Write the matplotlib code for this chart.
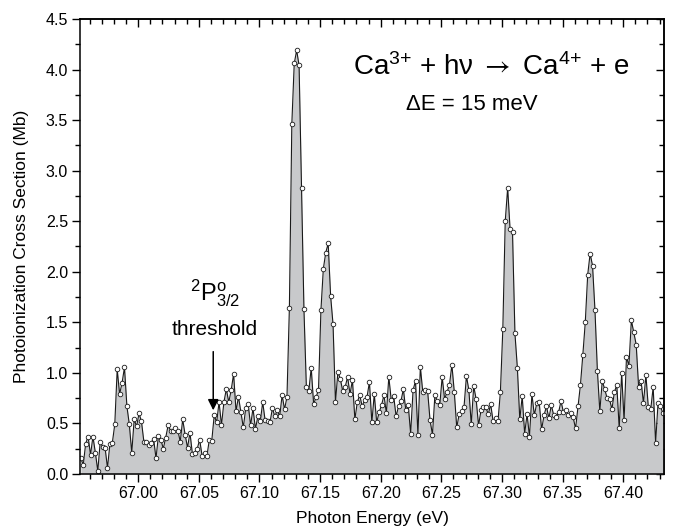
import numpy as np
import matplotlib
matplotlib.use("Agg")
import matplotlib.pyplot as plt
from matplotlib.ticker import MultipleLocator

plt.rcParams['font.family'] = ['Liberation Sans', 'DejaVu Sans']
plt.rcParams['mathtext.fontset'] = 'custom'
plt.rcParams['mathtext.rm'] = 'Liberation Sans'
plt.rcParams['mathtext.it'] = 'Liberation Sans:italic'
plt.rcParams['mathtext.sf'] = 'Liberation Sans'
plt.rcParams['mathtext.cal'] = 'STIXGeneral'

# scan: first energy and step (eV)
e_start = 66.9527
e_step = 0.002

# photoionization cross section (Mb), read point by point
cross_section = [
    0.155, 0.09, 0.30, 0.37, 0.19, 0.37, 0.21, 0.03, 0.32, 0.27,
    0.26, 0.06, 0.30, 0.31, 0.49, 1.035, 0.79, 0.90, 1.055, 0.67,
    0.49, 0.21, 0.54, 0.47, 0.60, 0.52, 0.32, 0.32, 0.29, 0.31,
    0.35, 0.155, 0.38, 0.34, 0.25, 0.36, 0.48, 0.43, 0.43, 0.45,
    0.43, 0.32, 0.54, 0.39, 0.26, 0.41, 0.20, 0.21, 0.25, 0.34,
    0.18, 0.21, 0.18, 0.34, 0.33, 0.58, 0.51, 0.71, 0.485, 0.71,
    0.84, 0.71, 0.83, 0.99, 0.62, 0.765, 0.61, 0.46, 0.65, 0.69,
    0.48, 0.65, 0.445, 0.57, 0.52, 0.71, 0.53, 0.52, 0.51, 0.65,
    0.57, 0.63, 0.57, 0.78, 0.64, 0.76, 1.645, 3.46, 4.06, 4.19,
    4.04, 2.83, 1.63, 0.86, 0.82, 1.05, 0.69, 0.76, 0.83, 1.62,
    2.03, 2.19, 2.28, 1.76, 1.48, 0.71, 1.01, 0.94, 0.82, 0.86,
    0.96, 0.79, 0.93, 0.54, 0.71, 0.78, 0.67, 0.73, 0.76, 0.91,
    0.51, 0.79, 0.51, 0.61, 0.68, 0.78, 0.60, 0.96, 0.73, 0.77,
    0.57, 0.67, 0.72, 0.84, 0.63, 0.68, 0.40, 0.83, 0.92, 0.39,
    1.06, 0.81, 0.83, 0.82, 0.53, 0.39, 0.78, 0.72, 0.68, 0.96,
    0.74, 0.81, 0.88, 1.08, 0.81, 0.46, 0.59, 0.62, 0.66, 0.97,
    0.83, 0.49, 0.87, 0.74, 0.48, 0.63, 0.66, 0.66, 0.59, 0.69,
    0.52, 0.55, 0.52, 0.81, 1.43, 2.50, 2.83, 2.42, 2.39, 1.39,
    1.05, 0.54, 0.77, 0.40, 0.59, 0.37, 0.79, 0.58, 0.70, 0.71,
    0.44, 0.58, 0.67, 0.55, 0.68, 0.58, 0.56, 0.61, 0.72, 0.61,
    0.63, 0.58, 0.60, 0.56, 0.45, 0.67, 0.88, 1.18, 1.50, 1.97,
    2.18, 2.06, 1.62, 1.02, 0.62, 0.92, 0.84, 0.75, 0.74, 0.64,
    0.81, 0.88, 0.45, 1.00, 0.53, 1.16, 1.07, 1.52, 1.40, 1.28,
    0.86, 0.92, 0.70, 0.98, 0.66, 0.64, 0.86, 0.31, 0.70, 0.67,
    0.60,
]
energy = e_start + e_step * np.arange(len(cross_section))

threshold_energy = 67.0619

fig = plt.figure(figsize=(6.76, 5.30), dpi=100)
ax = fig.add_axes([0.1183, 0.1057, 0.8639, 0.8585])

ax.fill_between(energy, 0, cross_section, color='#c8c9cb', lw=0)
ax.plot(energy, cross_section, color='#1a1a1a', lw=0.8,
        marker='o', ms=3.3, mfc='white', mec='#1a1a1a', mew=0.6)

ax.set_xlim(66.952, 67.4336)
ax.set_ylim(0, 4.5)
ax.xaxis.set_major_locator(MultipleLocator(0.05))
ax.xaxis.set_minor_locator(MultipleLocator(0.01))
ax.yaxis.set_major_locator(MultipleLocator(0.5))
ax.yaxis.set_minor_locator(MultipleLocator(0.25))
ax.xaxis.set_major_formatter(plt.FormatStrFormatter('%.2f'))
ax.yaxis.set_major_formatter(plt.FormatStrFormatter('%.1f'))
ax.tick_params(which='both', direction='out', width=1.0, labelsize=11.5, pad=3)
ax.tick_params(which='major', length=5.5)
ax.tick_params(which='minor', length=3.8)
for s in ax.spines.values():
    s.set_linewidth(1.1)

# mirrored ticks pointing inward on top and right
top = ax.secondary_xaxis('top')
top.xaxis.set_major_locator(MultipleLocator(0.05))
top.xaxis.set_minor_locator(MultipleLocator(0.01))
top.tick_params(which='both', direction='in', width=1.0, labeltop=False)
top.tick_params(which='major', length=5.5)
top.tick_params(which='minor', length=3.8)
right = ax.secondary_yaxis('right')
right.yaxis.set_major_locator(MultipleLocator(0.5))
right.yaxis.set_minor_locator(MultipleLocator(0.25))
right.tick_params(which='both', direction='in', width=1.0, labelright=False)
right.tick_params(which='major', length=5.5)
right.tick_params(which='minor', length=3.8)
for a in (top, right):
    for s in a.spines.values():
        s.set_linewidth(1.1)

ax.set_xlabel('Photon Energy (eV)', fontsize=12.5, labelpad=7)
ax.set_ylabel('Photoionization Cross Section (Mb)', fontsize=12.5, labelpad=12)

ax.text(0.704, 0.877, r'Ca$^{3{+}}$ + hν $\mathcal{\rightarrow}$ Ca$^{4{+}}$ + e',
        transform=ax.transAxes, fontsize=20, ha='center', va='baseline')
ax.text(0.671, 0.800, 'ΔE = 15 meV', transform=ax.transAxes,
        fontsize=16, ha='center', va='baseline')

ax.text(67.0635, 1.72, r'$^{2}\mathrm{P}^{\mathrm{o}}_{3/2}$',
        fontsize=17, ha='center', va='baseline')
ax.text(67.0635, 1.375, 'threshold', fontsize=15, ha='center', va='baseline')
ax.annotate('', xy=(threshold_energy, 0.63), xytext=(threshold_energy, 1.21),
            arrowprops=dict(arrowstyle='-|>', color='black', lw=1.1,
                            mutation_scale=16, shrinkA=0, shrinkB=0))

fig.savefig('out.png', dpi=100)
